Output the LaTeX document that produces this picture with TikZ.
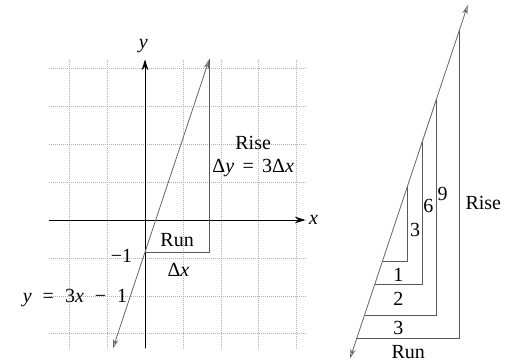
\documentclass[tikz,border=0pt]{standalone}
\usepackage{fontspec}
\setmainfont{Liberation Serif}
\usetikzlibrary{arrows.meta}
\newcommand{\rsp}{\hspace{0.42em}}
\newcommand{\wsp}{\hspace{0.55em}}
\begin{document}
\begin{tikzpicture}[x=0.75pt,y=-0.75pt,
  font=\fontsize{15}{17}\selectfont,
  gridline/.style={gray!60,densely dotted,line width=0.5pt},
  axis/.style={black,line width=0.7pt,-{Stealth[length=8pt,width=5pt]}},
  graphline/.style={gray!80!black,line width=0.6pt,{Stealth[open,length=7pt,width=4pt]}-{Stealth[open,length=7pt,width=4pt]}},
  tri/.style={gray!70!black,line width=0.5pt},
  lab/.style={inner sep=1pt}]
\useasboundingbox (0,0) rectangle (523,363);
% ---------- left figure ----------
\begin{scope}[shift={(108.75pt,-165pt)},x=24.075pt,y=24.075pt]
  \coordinate (gSW) at (-3,-4);
  \coordinate (gNE) at (5,5);
  \draw[gridline] (gSW) grid (gNE);
  \coordinate (xL) at (-3,0);
  \coordinate (xR) at (5,0);
  \coordinate (yB) at (0,-4);
  \coordinate (yT) at (0,5);
  \draw[axis] (xL) -- (xR);
  \draw[axis] (yB) -- (yT);
  \node[lab] (xlab) at (5.25,0) {\textit{x}};
  \node[lab] (ylab) at (-0.05,5.42) {\textit{y}};
  \coordinate (r0) at (0,-1);
  \coordinate (r1) at (2,-1);
  \coordinate (r2) at (2,5);
  \draw[tri] (r0) -- (r1) -- (r2);
  \coordinate (lA) at (-1,-4);
  \coordinate (lB) at (2,5);
  \draw[graphline] (lA) -- (lB);
  \node[lab] (rise) at (3.37,2.4) {Rise};
  \node[lab] (dy) at (3.37,1.61) {Δ\textit{y}\rsp=\rsp3Δ\textit{x}};
  \node[lab] (run) at (1.0,-0.62) {Run};
  \node[lab] (dx) at (1.04,-1.54) {Δ\textit{x}};
  \node[lab] (m1) at (-0.73,-1.12) {−1};
  \node[lab] (eq) at (-2.18,-2.44) {\textit{y}\wsp=\wsp3\textit{x}\wsp−\wsp1};
\end{scope}
% ---------- right figure ----------
\coordinate (LA) at (350.1,358.3);
\coordinate (LB) at (467.8,5);
% triangle 1
\coordinate (a0) at (382.5,261);
\coordinate (a1) at (407.3,261);
\coordinate (a2) at (407.3,186.6);
% triangle 2
\coordinate (b0) at (374.7,284.3);
\coordinate (b1) at (422.0,284.3);
\coordinate (b2) at (422.0,142.4);
% triangle 3
\coordinate (c0) at (364.5,315);
\coordinate (c1) at (436.3,315);
\coordinate (c2) at (436.3,99.6);
% triangle 4
\coordinate (d0) at (356.7,338.3);
\coordinate (d1) at (459.3,338.3);
\coordinate (d2) at (459.3,30.5);
\draw[tri] (a0) -- (a1) -- (a2);
\draw[tri] (b0) -- (b1) -- (b2);
\draw[tri] (c0) -- (c1) -- (c2);
\draw[tri] (d0) -- (d1) -- (d2);
\draw[graphline] (LA) -- (LB);
\node[lab] (n1) at (398.3,275) {1};
\node[lab] (n2) at (398.3,299) {2};
\node[lab] (n3) at (398.3,328.3) {3};
\node[lab] (nrun) at (408.3,351.7) {Run};
\node[lab] (h3) at (415,230) {3};
\node[lab] (h6) at (428.3,206) {6};
\node[lab] (h9) at (442.7,194) {9};
\node[lab] (nrise) at (483.3,203.3) {Rise};
\end{tikzpicture}
\end{document}
